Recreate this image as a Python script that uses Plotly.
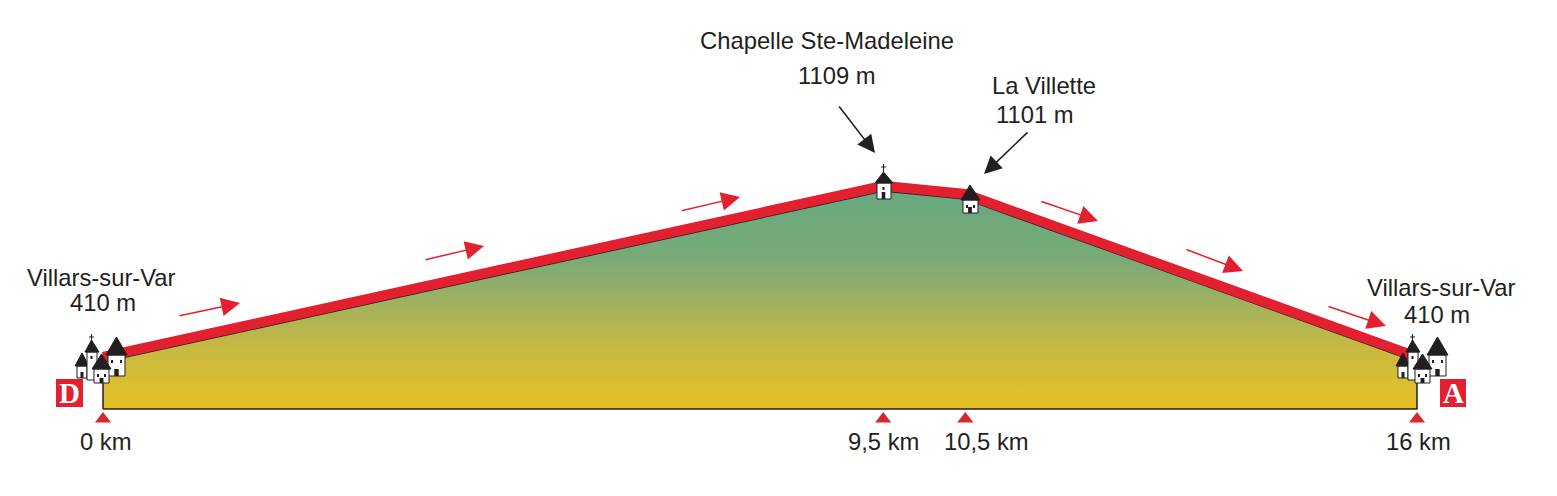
import plotly.graph_objects as go

W, H = 1557, 496

# profil de la rando
profile_km = [0, 9.5, 10.5, 16]
profile_alt = [410, 1109, 1076, 410]
base_alt = 218
band_alt = 21

stop_km = [0, 9.5, 10.5, 16]
stop_alt = [177, 177, 177, 177]

RED = "#e2202f"
INK = "#231f20"
FONT = "Liberation Sans, Arial, sans-serif"


def px(x):
    return x / W


def py(y):
    return 1 - y / H


def poly(points, fill, line=INK, width=1):
    path = "M " + " L ".join(f"{px(a):.5f},{py(b):.5f}" for a, b in points) + " Z"
    return dict(type="path", xref="paper", yref="paper", path=path, fillcolor=fill,
                line=dict(color=line, width=width))


def box(x0, y0, x1, y1, fill, line=INK, width=0):
    return poly([(x0, y0), (x1, y0), (x1, y1), (x0, y1)], fill, line, width)


def house(x0, x1, top, bottom, apex_x, apex_y, eave=2, windows=2, door_h=7):
    # corps blanc, toit noir, porte et fenetres
    door = max((x1 - x0) * 0.13, 1.5)
    s = [
        box(x0, top, x1, bottom, "white", width=1),
        poly([(x0 - eave, top), (apex_x, apex_y), (x1 + eave, top)], INK),
        box(apex_x - door, bottom - door_h, apex_x + door, bottom, INK),
    ]
    if windows == 2:
        s.append(box(x0 + 3, top + 5, x0 + 5, top + 8, INK))
        s.append(box(x1 - 5, top + 5, x1 - 3, top + 8, INK))
    elif windows == 1:
        s.append(box(apex_x - 1, top + 4, apex_x + 1, top + 7, INK))
    return s


def cross(x, top, bottom):
    return [
        dict(type="line", xref="paper", yref="paper", x0=px(x), x1=px(x), y0=py(top), y1=py(bottom),
             line=dict(color=INK, width=1)),
        dict(type="line", xref="paper", yref="paper", x0=px(x - 2.5), x1=px(x + 2.5), y0=py(top + 3), y1=py(top + 3),
             line=dict(color=INK, width=1)),
    ]


def village(dx):
    s = []
    s += cross(91.5 + dx, 334, 342)
    s += house(77 + dx, 87 + dx, 366, 378, 82 + dx, 353, windows=0, door_h=6)
    s += house(87 + dx, 97 + dx, 352, 380, 91.5 + dx, 340, windows=1, door_h=0)
    s += house(108 + dx, 125 + dx, 355, 376, 116.5 + dx, 337)
    s += house(94 + dx, 109 + dx, 369, 383, 101.5 + dx, 354, door_h=5)
    return s


fig = go.Figure()

fig.add_trace(go.Scatter(
    x=[profile_km[0]] + profile_km + [profile_km[-1], profile_km[0]],
    y=[base_alt] + profile_alt + [base_alt, base_alt],
    mode="lines", fill="toself",
    fillgradient=dict(type="vertical", colorscale=[
        [0, "#e6c024"], [0.24, "#cdba3d"], [0.39, "#b3b552"],
        [0.546, "#94af68"], [0.7, "#78aa78"], [1, "#68a880"]]),
    line=dict(color=INK, width=1.5),
    hoverinfo="skip",
))

fig.add_trace(go.Scatter(
    x=profile_km,
    y=[a + band_alt for a in profile_alt],
    mode="lines",
    line=dict(color=RED, width=10),
    hoverinfo="skip",
))

fig.add_trace(go.Scatter(
    x=stop_km, y=stop_alt, mode="markers",
    marker=dict(symbol="triangle-up", size=14, color="#d4282e"),
    hoverinfo="skip",
))

shapes = []
shapes += village(0)
shapes += village(1321)
shapes += cross(883.5, 164, 172)
shapes += house(877, 891, 183, 199, 883.5, 172, windows=1)
shapes += house(963, 978, 200, 213, 970, 185, door_h=6)
shapes.append(box(56, 379, 83, 407, RED))
shapes.append(box(1440, 379, 1466, 407, RED))

labels = [
    ("Chapelle Ste-Madeleine", 827, 41), ("1109 m", 837, 76),
    ("La Villette", 1044, 85), ("1101 m", 1035, 115),
    ("Villars-sur-Var", 101, 277), ("410 m", 103, 302),
    ("Villars-sur-Var", 1441, 287), ("410 m", 1437, 314),
    ("0 km", 106, 441), ("9,5 km", 883, 441), ("10,5 km", 986, 441), ("16 km", 1418, 441),
]
annotations = [
    dict(text=t, x=px(a), y=py(b), xref="paper", yref="paper", showarrow=False,
         xanchor="center", yanchor="middle", font=dict(family=FONT, size=23.8, color=INK))
    for t, a, b in labels
]
for t, a in [("D", 69.5), ("A", 1453)]:
    annotations.append(dict(text=f"<b>{t}</b>", x=px(a), y=py(393), xref="paper", yref="paper", showarrow=False,
                            xanchor="center", yanchor="middle",
                            font=dict(family="Liberation Serif, serif", size=29, color="white")))

red_arrows = [(178, 316, 240, 303), (424, 260, 484, 246), (680, 211, 740, 197),
              (1040, 201, 1098, 221), (1185, 249, 1243, 271), (1327, 306, 1386, 326)]
black_arrows = [(838, 105, 875, 153), (1029, 131, 984, 174)]
for arrows, color, w, size in [(red_arrows, RED, 1.5, 2.5), (black_arrows, INK, 1.6, 2.2)]:
    for x0, y0, x1, y1 in arrows:
        annotations.append(dict(text="", x=px(x1), y=py(y1), xref="paper", yref="paper",
                                ax=x0 - x1, ay=y0 - y1, showarrow=True, arrowhead=2,
                                arrowsize=size, arrowwidth=w, arrowcolor=color, standoff=0))

fig.update_layout(
    width=W, height=H, margin=dict(l=0, r=0, t=0, b=0),
    paper_bgcolor="white", plot_bgcolor="white", showlegend=False,
    shapes=shapes, annotations=annotations,
    xaxis=dict(range=[-103 / 82.125, (W - 103) / 82.125], visible=False, fixedrange=True),
    yaxis=dict(range=[410 - (H - 362) / 0.2446, 410 + 362 / 0.2446], visible=False, fixedrange=True),
)

fig.write_html("out.html", config={"displayModeBar": False},
               post_script="document.body.style.margin='0';")
